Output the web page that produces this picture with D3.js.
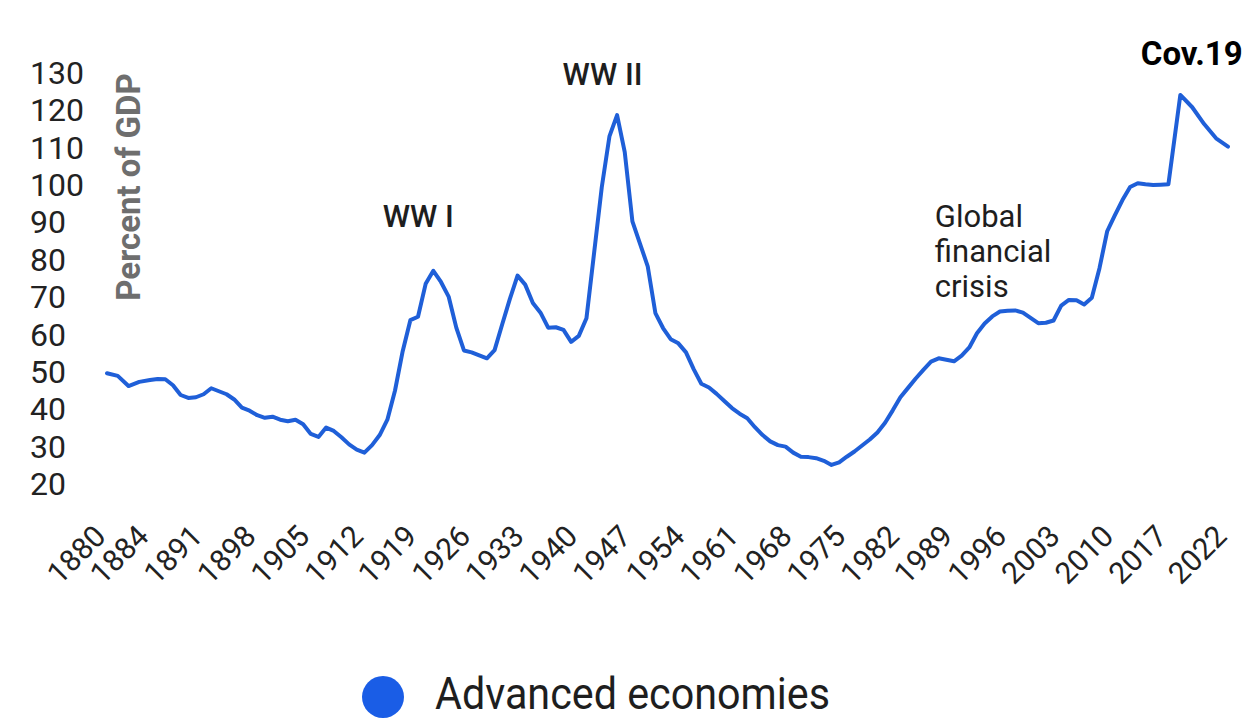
<!DOCTYPE html>
<html>
<head>
<meta charset="utf-8">
<script src="https://cdn.jsdelivr.net/npm/d3@7"></script>
<style>
  html, body { margin: 0; padding: 0; background: #fff; }
  svg { display: block; font-family: Roboto, "Noto Sans", Arial, sans-serif; }
</style>
</head>
<body>
<svg id="chart" width="1257" height="721"></svg>
<script>
// ---- data ----
const years = [
  1880,1881,1882,1883,1884,1885,1886,1887,1888,1889,
  1890,1891,1892,1893,1894,1895,1896,1897,1898,1899,
  1900,1901,1902,1903,1904,1905,1906,1907,1908,1909,
  1910,1911,1912,1913,1914,1915,1916,1917,1918,1919,
  1920,1921,1922,1923,1924,1925,1926,1927,1928,1929,
  1930,1931,1932,1933,1934,1935,1936,1937,1938,1939,
  1940,1941,1942,1943,1944,1945,1946,1947,1948,1949,
  1950,1951,1952,1953,1954,1955,1956,1957,1958,1959,
  1960,1961,1962,1963,1964,1965,1966,1967,1968,1969,
  1970,1971,1972,1973,1974,1975,1976,1977,1978,1979,
  1980,1981,1982,1983,1984,1985,1986,1987,1988,1989,
  1990,1991,1992,1993,1994,1995,1996,1997,1998,1999,
  2000,2001,2002,2003,2004,2005,2006,2007,2008,2009,
  2010,2011,2012,2013,2014,2015,2016,2017,2018,2019,
  2020,2021,2022
];
const advancedEconomies = [
  49.4,48.7,46.0,47.1,47.6,47.9,47.8,46.2,43.6,42.8,
  43.0,43.8,45.4,44.6,43.8,42.4,40.2,39.4,38.2,37.5,
  37.8,37.0,36.6,37.0,35.8,33.2,32.4,34.9,34.0,32.3,
  30.4,29.0,28.2,30.2,32.9,37.0,44.8,55.3,63.6,64.5,
  73.3,76.8,73.8,69.9,61.6,55.5,55.0,54.2,53.4,55.6,
  62.5,69.3,75.5,73.1,68.2,65.6,61.6,61.7,61.0,57.8,
  59.4,64.1,81.6,99.1,112.7,118.4,108.5,90.0,84.0,78.0,
  65.5,61.5,58.5,57.4,55.0,50.5,46.6,45.6,43.9,42.0,
  40.1,38.6,37.4,35.0,32.9,31.2,30.2,29.8,28.2,27.1,
  27.0,26.7,26.0,24.9,25.6,27.1,28.5,30.1,31.7,33.6,
  36.2,39.5,43.0,45.5,48.0,50.3,52.5,53.4,53.0,52.6,
  54.1,56.3,60.1,62.7,64.6,65.9,66.1,66.2,65.6,64.2,
  62.8,62.9,63.5,67.5,69.0,68.9,67.8,69.6,77.5,87.3,
  91.6,95.7,99.2,100.2,99.9,99.7,99.8,99.9,123.8,120.5,
  116.0,112.2,110.0
];
const xTickYears = [1880,1884,1891,1898,1905,1912,1919,1926,1933,1940,1947,
                    1954,1961,1968,1975,1982,1989,1996,2003,2010,2017,2022];
const yTicks = [20,30,40,50,60,70,80,90,100,110,120,130];
const seriesName = "Advanced economies";
const yAxisTitle = "Percent of GDP";
const annotations = [
  { text: ["WW I"], year: 1914.4, value: 88.5, anchor: "start", weight: 500 },
  { text: ["WW II"], year: 1943.1, value: 126.4, anchor: "middle", weight: 500 },
  { text: ["Global", "financial", "crisis"], year: 1986.5, value: 88.5, anchor: "start", weight: 400 },
  { text: ["Cov.19"], year: 2013.4, value: 131.8, anchor: "start", weight: 700 }
];

// ---- layout ----
const W = 1257, H = 721;
const lineColor = "#1f5fd8";
const svg = d3.select("#chart");

// x: tick labels are evenly spaced even though year gaps are not -> polylinear scale
const firstX = 107, secondX = 150, stepX = 53.6, lastX = 1228;
const xRange = xTickYears.map((d, i) =>
  i === 0 ? firstX : (i === xTickYears.length - 1 ? lastX : secondX + (i - 1) * stepX));
const x = d3.scaleLinear().domain(xTickYears).range(xRange);
const y = d3.scaleLinear().domain([20, 130]).range([483.3, 71.7]);

// y axis (labels only, left aligned)
const yAxis = svg.append("g")
  .call(d3.axisLeft(y).tickValues(yTicks).tickSize(0).tickFormat(d3.format("d")));
yAxis.select(".domain").remove();
yAxis.selectAll("text")
  .attr("x", 30).attr("dy", "0.36em")
  .attr("text-anchor", "start")
  .style("font-family", "Roboto, sans-serif")
  .style("font-size", "32px")
  .attr("fill", "#222");

// x axis (rotated labels only)
const xAxis = svg.append("g")
  .attr("transform", "translate(0,538)")
  .call(d3.axisBottom(x).tickValues(xTickYears).tickSize(0).tickFormat(d3.format("d")));
xAxis.select(".domain").remove();
xAxis.selectAll("text")
  .attr("x", 0).attr("y", 0).attr("dy", 0)
  .attr("text-anchor", "end")
  .attr("transform", "rotate(-45)")
  .style("font-family", "Roboto, sans-serif")
  .style("font-size", "30px")
  .attr("fill", "#222");

// y axis title
svg.append("text")
  .attr("transform", "translate(140,187) rotate(-90)")
  .attr("text-anchor", "middle")
  .style("font-size", "33px")
  .style("font-weight", 700)
  .attr("fill", "#6e6e6e")
  .text(yAxisTitle);

// line
const data = years.map((yr, i) => ({ year: yr, value: advancedEconomies[i] }));
svg.append("path")
  .datum(data)
  .attr("fill", "none")
  .attr("stroke", lineColor)
  .attr("stroke-width", 4)
  .attr("stroke-linejoin", "round")
  .attr("stroke-linecap", "round")
  .attr("d", d3.line().x(d => x(d.year)).y(d => y(d.value)));

// annotations
annotations.forEach(a => {
  const t = svg.append("text")
    .attr("x", x(a.year)).attr("y", y(a.value))
    .attr("text-anchor", a.anchor)
    .style("font-size", a.weight === 700 ? "33px" : "31px")
    .style("font-weight", a.weight)
    .attr("fill", a.weight === 700 ? "#000" : "#1e1e1e");
  a.text.forEach((line, i) => {
    t.append("tspan").attr("x", x(a.year)).attr("dy", i === 0 ? 0 : 35).text(line);
  });
});

// legend
const legend = svg.append("g");
legend.append("circle").attr("cx", 383).attr("cy", 697).attr("r", 21).attr("fill", "#1a5de6");
legend.append("text")
  .attr("x", 435).attr("y", 709)
  .style("font-size", "44px")
  .attr("textLength", 395)
  .attr("lengthAdjust", "spacingAndGlyphs")
  .attr("fill", "#1e1e1e")
  .text(seriesName);
</script>
</body>
</html>
